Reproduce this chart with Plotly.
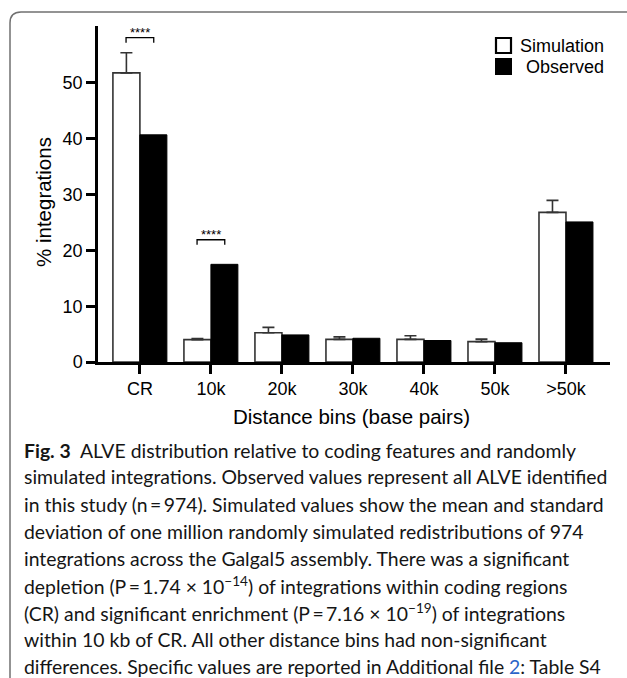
import plotly.graph_objects as go

categories = ["CR", "10k", "20k", "30k", "40k", "50k", ">50k"]
simulation = [51.8, 4.0, 5.25, 4.05, 4.05, 3.65, 26.8]
simulation_sd = [3.6, 0.2, 0.95, 0.45, 0.65, 0.45, 2.15]
observed = [40.7, 17.5, 4.85, 4.25, 3.85, 3.45, 25.1]
y_ticks = [0, 10, 20, 30, 40, 50]

caption_lines = [
    "<b>Fig. 3</b>  ALVE distribution relative to coding features and randomly",
    "simulated integrations. Observed values represent all ALVE identified",
    "in this study (n\u2009=\u2009974). Simulated values show the mean and standard",
    "deviation of one million randomly simulated redistributions of 974",
    "integrations across the Galgal5 assembly. There was a significant",
    "depletion (P\u2009=\u20091.74 \u00d7 10<sup>\u221214</sup>) of integrations within coding regions",
    "(CR) and significant enrichment (P\u2009=\u20097.16 \u00d7 10<sup>\u221219</sup>) of integrations",
    "within 10 kb of CR. All other distance bins had non-significant",
    "differences. Specific values are reported in Additional file <span style='color:#2b64c8'>2</span>: Table S4",
]

W, H = 627, 678
L, R, T, B = 98, 17, 26, 316
PW, PH = W - L - R, H - T - B

def px(x):
    return (x - L) / PW

def py(y):
    return (H - B - y) / PH

ARIAL = "Arial, Liberation Sans, sans-serif"

fig = go.Figure()
fig.add_trace(go.Bar(
    x=categories, y=simulation, name="Simulation",
    marker=dict(color="white", line=dict(color="#333333", width=1.6)),
    error_y=dict(type="data", symmetric=False, array=simulation_sd,
                 arrayminus=[0] * len(simulation_sd),
                 color="#333333", thickness=1.6, width=6),
    showlegend=False,
))
fig.add_trace(go.Bar(
    x=categories, y=observed, name="Observed",
    marker=dict(color="black", line=dict(color="black", width=1)),
    showlegend=False,
))

fig.update_layout(
    width=W, height=H,
    margin=dict(l=L, r=R, t=T, b=B, pad=0),
    paper_bgcolor="white", plot_bgcolor="white",
    barmode="group", bargap=0.24, bargroupgap=0,
    font=dict(family=ARIAL, color="black"),
)
fig.update_xaxes(
    type="category", range=[-0.59, 6.62],
    showline=True, linecolor="black", linewidth=2.5,
    ticks="outside", ticklen=9, tickwidth=2.5, tickcolor="black",
    tickfont=dict(size=18, family=ARIAL), showgrid=False, zeroline=False,
)
fig.update_yaxes(
    range=[0, 60.2], tickvals=y_ticks,
    showline=True, linecolor="black", linewidth=2.5,
    ticks="outside", ticklen=9, tickwidth=2.5, tickcolor="black",
    tickfont=dict(size=18, family=ARIAL), showgrid=False, zeroline=False,
)

# axis titles
fig.add_annotation(text="% integrations", xref="paper", yref="paper",
                   x=px(43), y=py(202), xanchor="center", yanchor="middle",
                   textangle=-90, showarrow=False,
                   font=dict(size=20.5, family=ARIAL))
fig.add_annotation(text="Distance bins (base pairs)", xref="paper", yref="paper",
                   x=px(351), y=py(416), xanchor="center", yanchor="middle",
                   showarrow=False, font=dict(size=20.5, family=ARIAL))

# legend (drawn)
fig.add_shape(type="rect", xref="paper", yref="paper",
              x0=px(496), x1=px(511), y0=py(53), y1=py(38),
              line=dict(color="black", width=2.2), fillcolor="white")
fig.add_shape(type="rect", xref="paper", yref="paper",
              x0=px(495), x1=px(512), y0=py(75), y1=py(58),
              line=dict(color="black", width=0), fillcolor="black")
fig.add_annotation(text="Simulation", xref="paper", yref="paper",
                   x=px(606), y=py(45.5), xanchor="right", yanchor="middle",
                   showarrow=False, font=dict(size=18, family=ARIAL))
fig.add_annotation(text="Observed", xref="paper", yref="paper",
                   x=px(606), y=py(67), xanchor="right", yanchor="middle",
                   showarrow=False, font=dict(size=18, family=ARIAL))

# significance brackets
for idx, ytop in [(0, 58.1), (1, 21.9)]:
    x0, x1 = idx - 0.195, idx + 0.195
    fig.add_shape(type="path", xref="x", yref="y",
                  path=f"M {x0},{ytop-0.9} L {x0},{ytop} L {x1},{ytop} L {x1},{ytop-0.9}",
                  line=dict(color="black", width=1.3))
    fig.add_annotation(text="****", x=idx, y=ytop, xref="x", yref="y",
                       yanchor="bottom", showarrow=False, yshift=-4,
                       font=dict(size=13, family=ARIAL))

# frame with rounded top-left corner
fx, fy, rr = 10, 12, 11
path = (f"M {px(fx)},{py(H)} L {px(fx)},{py(fy + rr)} "
        f"Q {px(fx)},{py(fy)} {px(fx + rr)},{py(fy)} L {px(W)},{py(fy)}")
fig.add_shape(type="path", xref="paper", yref="paper", path=path,
              line=dict(color="#707070", width=1.5))

# caption
y0, dy = 450, 27.0
for i, line in enumerate(caption_lines):
    fig.add_annotation(text=line, xref="paper", yref="paper",
                       x=px(22), y=py(y0 + i * dy), xanchor="left", yanchor="middle",
                       showarrow=False, align="left",
                       font=dict(size=19.4, family="Lato, sans-serif", color="#151515"))

fig.write_html("out.html", config={"displayModeBar": False},
               post_script="document.body.style.margin='0';document.body.style.overflow='hidden';")
